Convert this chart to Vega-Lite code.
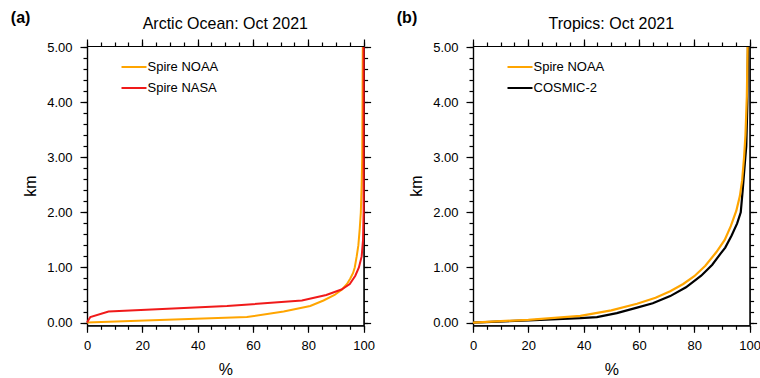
{
  "$schema": "https://vega.github.io/schema/vega-lite/v6.json",
  "padding": {"left": 10, "top": 9, "right": 0, "bottom": 0},
  "background": "white",
  "datasets": {
    "arctic": [
      {"pct": 0, "km": 0.0, "series": "Spire NOAA"},
      {"pct": 57.8, "km": 0.1, "series": "Spire NOAA"},
      {"pct": 71.1, "km": 0.2, "series": "Spire NOAA"},
      {"pct": 80.7, "km": 0.3, "series": "Spire NOAA"},
      {"pct": 85.5, "km": 0.4, "series": "Spire NOAA"},
      {"pct": 89.5, "km": 0.5, "series": "Spire NOAA"},
      {"pct": 92.2, "km": 0.6, "series": "Spire NOAA"},
      {"pct": 94.0, "km": 0.7, "series": "Spire NOAA"},
      {"pct": 95.2, "km": 0.8, "series": "Spire NOAA"},
      {"pct": 96.2, "km": 0.9, "series": "Spire NOAA"},
      {"pct": 96.8, "km": 1.0, "series": "Spire NOAA"},
      {"pct": 97.5, "km": 1.2, "series": "Spire NOAA"},
      {"pct": 98.1, "km": 1.4, "series": "Spire NOAA"},
      {"pct": 98.6, "km": 1.7, "series": "Spire NOAA"},
      {"pct": 99.0, "km": 2.0, "series": "Spire NOAA"},
      {"pct": 99.3, "km": 2.5, "series": "Spire NOAA"},
      {"pct": 99.5, "km": 3.0, "series": "Spire NOAA"},
      {"pct": 99.6, "km": 4.0, "series": "Spire NOAA"},
      {"pct": 99.7, "km": 5.0, "series": "Spire NOAA"},
      {"pct": 0, "km": 0.0, "series": "Spire NASA"},
      {"pct": 1.2, "km": 0.1, "series": "Spire NASA"},
      {"pct": 7.8, "km": 0.2, "series": "Spire NASA"},
      {"pct": 50.6, "km": 0.3, "series": "Spire NASA"},
      {"pct": 77.7, "km": 0.4, "series": "Spire NASA"},
      {"pct": 86.5, "km": 0.5, "series": "Spire NASA"},
      {"pct": 92.0, "km": 0.6, "series": "Spire NASA"},
      {"pct": 95.0, "km": 0.7, "series": "Spire NASA"},
      {"pct": 97.0, "km": 0.85, "series": "Spire NASA"},
      {"pct": 98.3, "km": 1.0, "series": "Spire NASA"},
      {"pct": 99.3, "km": 1.2, "series": "Spire NASA"},
      {"pct": 99.8, "km": 1.5, "series": "Spire NASA"},
      {"pct": 100, "km": 2.0, "series": "Spire NASA"},
      {"pct": 100, "km": 5.0, "series": "Spire NASA"}
    ],
    "tropics": [
      {"pct": 0, "km": 0.0, "series": "COSMIC-2"},
      {"pct": 20, "km": 0.04, "series": "COSMIC-2"},
      {"pct": 38.8, "km": 0.08, "series": "COSMIC-2"},
      {"pct": 44.8, "km": 0.1, "series": "COSMIC-2"},
      {"pct": 52, "km": 0.17, "series": "COSMIC-2"},
      {"pct": 59.3, "km": 0.27, "series": "COSMIC-2"},
      {"pct": 65, "km": 0.35, "series": "COSMIC-2"},
      {"pct": 71.3, "km": 0.48, "series": "COSMIC-2"},
      {"pct": 77, "km": 0.64, "series": "COSMIC-2"},
      {"pct": 82.5, "km": 0.85, "series": "COSMIC-2"},
      {"pct": 86.5, "km": 1.05, "series": "COSMIC-2"},
      {"pct": 89.5, "km": 1.25, "series": "COSMIC-2"},
      {"pct": 91.2, "km": 1.36, "series": "COSMIC-2"},
      {"pct": 93.5, "km": 1.58, "series": "COSMIC-2"},
      {"pct": 95.5, "km": 1.8, "series": "COSMIC-2"},
      {"pct": 96.8, "km": 2.0, "series": "COSMIC-2"},
      {"pct": 97.5, "km": 2.4, "series": "COSMIC-2"},
      {"pct": 98.3, "km": 2.9, "series": "COSMIC-2"},
      {"pct": 98.8, "km": 3.2, "series": "COSMIC-2"},
      {"pct": 99.2, "km": 4.0, "series": "COSMIC-2"},
      {"pct": 99.4, "km": 5.0, "series": "COSMIC-2"},
      {"pct": 0, "km": 0.0, "series": "Spire NOAA"},
      {"pct": 20, "km": 0.05, "series": "Spire NOAA"},
      {"pct": 38.8, "km": 0.12, "series": "Spire NOAA"},
      {"pct": 50, "km": 0.22, "series": "Spire NOAA"},
      {"pct": 59.3, "km": 0.34, "series": "Spire NOAA"},
      {"pct": 66, "km": 0.45, "series": "Spire NOAA"},
      {"pct": 71.3, "km": 0.57, "series": "Spire NOAA"},
      {"pct": 76, "km": 0.7, "series": "Spire NOAA"},
      {"pct": 80, "km": 0.84, "series": "Spire NOAA"},
      {"pct": 84, "km": 1.03, "series": "Spire NOAA"},
      {"pct": 88, "km": 1.28, "series": "Spire NOAA"},
      {"pct": 91, "km": 1.5, "series": "Spire NOAA"},
      {"pct": 93.2, "km": 1.75, "series": "Spire NOAA"},
      {"pct": 95.2, "km": 2.03, "series": "Spire NOAA"},
      {"pct": 96.5, "km": 2.3, "series": "Spire NOAA"},
      {"pct": 97.3, "km": 2.58, "series": "Spire NOAA"},
      {"pct": 98.0, "km": 3.0, "series": "Spire NOAA"},
      {"pct": 98.5, "km": 3.4, "series": "Spire NOAA"},
      {"pct": 99.0, "km": 4.1, "series": "Spire NOAA"},
      {"pct": 99.3, "km": 5.0, "series": "Spire NOAA"}
    ]
  },
  "hconcat": [
    {
      "data": {"name": "arctic"},
      "width": 276.6,
      "height": 279.3,
      "title": {"text": "Arctic Ocean: Oct 2021", "offset": -23},
      "layer": [
        {
          "mark": {"type": "line", "strokeWidth": 2, "clip": false},
          "encoding": {
            "x": {"field": "pct", "type": "quantitative", "scale": {"domain": [0, 100], "nice": false, "zero": false},
              "axis": {"orient": "bottom", "values": [0, 20, 40, 60, 80, 100], "title": "%", "tickSize": 7, "labelPadding": 7, "titlePadding": 9, "labelFlush": false}},
            "y": {"field": "km", "type": "quantitative", "scale": {"domain": [-0.05, 5.02], "nice": false, "zero": false},
              "axis": {"orient": "left", "values": [0, 1, 2, 3, 4, 5], "format": ".2f", "title": "km", "tickSize": 7, "labelPadding": 8, "titlePadding": 8}},
            "color": {"field": "series", "type": "nominal",
              "scale": {"domain": ["Spire NOAA", "Spire NASA"], "range": ["#ffa500", "#f01a1a"]},
              "legend": {"orient": "none", "legendX": 33.5, "legendY": 7.5, "title": null, "symbolType": "stroke", "symbolSize": 625, "symbolStrokeWidth": 2, "labelFontSize": 13, "labelOffset": 0, "rowPadding": 0, "padding": 0}},
            "order": {"field": "km", "type": "quantitative"}
          }
        },
        {
          "mark": {"type": "line", "opacity": 0},
          "encoding": {
            "x": {"field": "pct", "type": "quantitative", "axis": {"orient": "bottom", "values": [0,5,10,15,20,25,30,35,40,45,50,55,60,65,70,75,80,85,90,95,100], "labels": false, "title": null, "tickSize": 4}},
            "y": {"field": "km", "type": "quantitative", "axis": {"orient": "left", "values": [0,0.2,0.4,0.6,0.8,1,1.2,1.4,1.6,1.8,2,2.2,2.4,2.6,2.8,3,3.2,3.4,3.6,3.8,4,4.2,4.4,4.6,4.8,5], "labels": false, "title": null, "tickSize": 4}},
            "detail": {"field": "series"}
          }
        },
        {
          "mark": {"type": "line", "opacity": 0},
          "encoding": {
            "x": {"field": "pct", "type": "quantitative", "axis": {"orient": "top", "values": [0, 20, 40, 60, 80, 100], "labels": false, "tickSize": 7, "title": "(a)", "titleX": -76.7, "titleY": -23.7, "titleAlign": "left", "titleBaseline": "alphabetic", "titleAngle": 0, "titleFontWeight": "bold", "titleFontSize": 16}},
            "y": {"field": "km", "type": "quantitative", "axis": {"orient": "right", "values": [0, 1, 2, 3, 4, 5], "labels": false, "title": null, "tickSize": 7}},
            "detail": {"field": "series"}
          }
        },
        {
          "mark": {"type": "line", "opacity": 0},
          "encoding": {
            "x": {"field": "pct", "type": "quantitative", "axis": {"orient": "top", "values": [0,5,10,15,20,25,30,35,40,45,50,55,60,65,70,75,80,85,90,95,100], "labels": false, "title": null, "tickSize": 4}},
            "y": {"field": "km", "type": "quantitative", "axis": {"orient": "right", "values": [0,0.2,0.4,0.6,0.8,1,1.2,1.4,1.6,1.8,2,2.2,2.4,2.6,2.8,3,3.2,3.4,3.6,3.8,4,4.2,4.4,4.6,4.8,5], "labels": false, "title": null, "tickSize": 4}},
            "detail": {"field": "series"}
          }
        }
      ],
      "resolve": {"axis": {"x": "independent", "y": "independent"}}
    },
    {
      "data": {"name": "tropics"},
      "width": 276.6,
      "height": 279.3,
      "title": {"text": "Tropics: Oct 2021", "offset": -23},
      "layer": [
        {
          "mark": {"type": "line", "strokeWidth": 2.2, "clip": false},
          "encoding": {
            "x": {"field": "pct", "type": "quantitative", "scale": {"domain": [0, 100], "nice": false, "zero": false},
              "axis": {"orient": "bottom", "values": [0, 20, 40, 60, 80, 100], "title": "%", "tickSize": 7, "labelPadding": 7, "titlePadding": 9, "labelFlush": false}},
            "y": {"field": "km", "type": "quantitative", "scale": {"domain": [-0.05, 5.02], "nice": false, "zero": false},
              "axis": {"orient": "left", "values": [0, 1, 2, 3, 4, 5], "format": ".2f", "title": "km", "tickSize": 7, "labelPadding": 8, "titlePadding": 8}},
            "color": {"field": "series", "type": "nominal",
              "scale": {"domain": ["Spire NOAA", "COSMIC-2"], "range": ["#ffa500", "#000000"]},
              "legend": {"orient": "none", "legendX": 33.5, "legendY": 7.5, "title": null, "symbolType": "stroke", "symbolSize": 625, "symbolStrokeWidth": 2, "labelFontSize": 13, "labelOffset": 0, "rowPadding": 0, "padding": 0}},
            "order": {"field": "km", "type": "quantitative"}
          }
        },
        {
          "mark": {"type": "line", "opacity": 0},
          "encoding": {
            "x": {"field": "pct", "type": "quantitative", "axis": {"orient": "bottom", "values": [0,5,10,15,20,25,30,35,40,45,50,55,60,65,70,75,80,85,90,95,100], "labels": false, "title": null, "tickSize": 4}},
            "y": {"field": "km", "type": "quantitative", "axis": {"orient": "left", "values": [0,0.2,0.4,0.6,0.8,1,1.2,1.4,1.6,1.8,2,2.2,2.4,2.6,2.8,3,3.2,3.4,3.6,3.8,4,4.2,4.4,4.6,4.8,5], "labels": false, "title": null, "tickSize": 4}},
            "detail": {"field": "series"}
          }
        },
        {
          "mark": {"type": "line", "opacity": 0},
          "encoding": {
            "x": {"field": "pct", "type": "quantitative", "axis": {"orient": "top", "values": [0, 20, 40, 60, 80, 100], "labels": false, "tickSize": 7, "title": "(b)", "titleX": -76.7, "titleY": -23.7, "titleAlign": "left", "titleBaseline": "alphabetic", "titleAngle": 0, "titleFontWeight": "bold", "titleFontSize": 16}},
            "y": {"field": "km", "type": "quantitative", "axis": {"orient": "right", "values": [0, 1, 2, 3, 4, 5], "labels": false, "title": null, "tickSize": 7}},
            "detail": {"field": "series"}
          }
        },
        {
          "mark": {"type": "line", "opacity": 0},
          "encoding": {
            "x": {"field": "pct", "type": "quantitative", "axis": {"orient": "top", "values": [0,5,10,15,20,25,30,35,40,45,50,55,60,65,70,75,80,85,90,95,100], "labels": false, "title": null, "tickSize": 4}},
            "y": {"field": "km", "type": "quantitative", "axis": {"orient": "right", "values": [0,0.2,0.4,0.6,0.8,1,1.2,1.4,1.6,1.8,2,2.2,2.4,2.6,2.8,3,3.2,3.4,3.6,3.8,4,4.2,4.4,4.6,4.8,5], "labels": false, "title": null, "tickSize": 4}},
            "detail": {"field": "series"}
          }
        }
      ],
      "resolve": {"axis": {"x": "independent", "y": "independent"}}
    }
  ],
  "spacing": 21,
  "resolve": {"scale": {"color": "independent", "x": "independent", "y": "independent"}, "legend": {"color": "independent"}},
  "config": {
    "font": "Liberation Sans",
    "view": {"stroke": null},
    "title": {"fontSize": 16, "fontWeight": "normal", "font": "Liberation Sans", "baseline": "alphabetic", "color": "#000"},
    "axis": {"grid": false, "domainColor": "#000", "tickColor": "#000", "labelColor": "#000", "titleColor": "#000", "domainWidth": 1.2, "tickWidth": 1.2, "labelFontSize": 13, "titleFontSize": 16, "titleFontWeight": "normal", "labelFont": "Liberation Sans", "titleFont": "Liberation Sans"},
    "legend": {"labelFont": "Liberation Sans", "labelColor": "#000"}
  }
}
